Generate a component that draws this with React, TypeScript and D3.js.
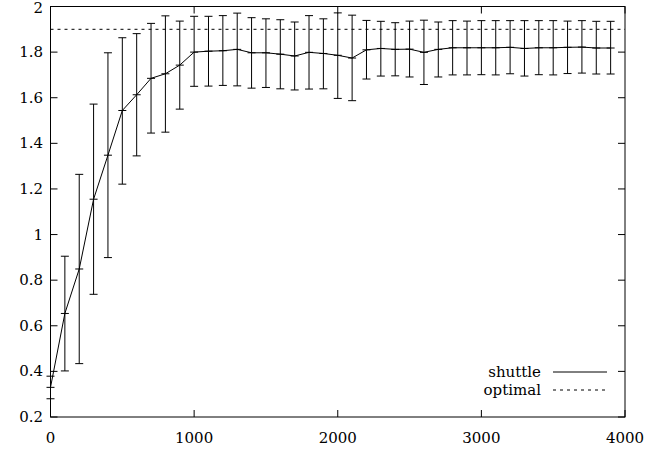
import * as d3 from 'd3';

const xs = [0, 100, 200, 300, 400, 500, 600, 700, 800, 900, 1000, 1100, 1200, 1300, 1400, 1500, 1600, 1700, 1800, 1900,
  2000, 2100, 2200, 2300, 2400, 2500, 2600, 2700, 2800, 2900, 3000, 3100, 3200, 3300, 3400, 3500, 3600, 3700, 3800, 3900];

const means = [0.33, 0.654, 0.849, 1.155, 1.348, 1.544, 1.613, 1.685, 1.705, 1.743, 1.8, 1.804, 1.806, 1.812, 1.797, 1.797, 1.791, 1.783, 1.799, 1.794,
  1.786, 1.774, 1.81, 1.816, 1.812, 1.813, 1.799, 1.812, 1.819, 1.819, 1.819, 1.819, 1.821, 1.816, 1.819, 1.819, 1.821, 1.822, 1.818, 1.818];

const highs = [0.379, 0.905, 1.264, 1.572, 1.797, 1.863, 1.881, 1.926, 1.959, 1.936, 1.957, 1.957, 1.96, 1.971, 1.951, 1.946, 1.942, 1.932, 1.96, 1.946,
  1.972, 1.962, 1.939, 1.935, 1.929, 1.936, 1.94, 1.932, 1.938, 1.936, 1.938, 1.938, 1.938, 1.938, 1.938, 1.938, 1.936, 1.938, 1.935, 1.935];

const lows = [0.28, 0.402, 0.434, 0.738, 0.899, 1.221, 1.345, 1.445, 1.449, 1.55, 1.65, 1.651, 1.654, 1.652, 1.642, 1.645, 1.639, 1.634, 1.638, 1.639,
  1.597, 1.587, 1.682, 1.695, 1.696, 1.691, 1.658, 1.691, 1.7, 1.7, 1.701, 1.7, 1.705, 1.695, 1.701, 1.7, 1.706, 1.708, 1.704, 1.704];

const optimal = 1.9;
const xTicks = [0, 1000, 2000, 3000, 4000];
const yTicks = [0.2, 0.4, 0.6, 0.8, 1, 1.2, 1.4, 1.6, 1.8, 2];
const legend = ['shuttle', 'optimal'];

const W = 670;
const H = 449;
const left = 50.5;
const right = 625;
const top = 6.5;
const bottom = 417;
const font = "'DejaVu Serif', serif";

export default function App() {
  const x = d3.scaleLinear().domain([0, 4000]).range([left, right]);
  const y = d3.scaleLinear().domain([0.2, 2]).range([bottom, top]);
  const pts = xs.map((v, i) => [x(v), y(means[i])] as [number, number]);
  const line = d3.line()(pts) || '';
  const tick = 7;
  const cap = 4;

  return (
    <svg width={W} height={H} style={{ position: 'absolute', left: 0, top: 0 }}>
      <rect width={W} height={H} fill="#fff" />
      <g style={{ fontFamily: font, fontSize: '15px' }} fill="#000">
        {xTicks.map((t) => (
          <text key={'xl' + t} x={x(t)} y={443} textAnchor="middle">{t}</text>
        ))}
        {yTicks.map((t) => (
          <text key={'yl' + t} x={43} y={Math.max(y(t) + 5, 13)} textAnchor="end">{t}</text>
        ))}
        <text x={541} y={377} textAnchor="end">{legend[0]}</text>
        <text x={541} y={395} textAnchor="end">{legend[1]}</text>
      </g>
      {/* frame */}
      <rect x={left} y={top} width={right - left} height={bottom - top} fill="none" stroke="#000" strokeWidth={1} />
      {xTicks.map((t) => (
        <g key={'x' + t} stroke="#000">
          <line x1={x(t)} x2={x(t)} y1={bottom} y2={bottom - tick} />
          <line x1={x(t)} x2={x(t)} y1={top} y2={top + tick} />
        </g>
      ))}
      {yTicks.map((t) => (
        <g key={'y' + t} stroke="#000">
          <line x1={left} x2={left + tick} y1={y(t)} y2={y(t)} />
          <line x1={right} x2={right - tick} y1={y(t)} y2={y(t)} />
        </g>
      ))}
      {/* optimal */}
      <line x1={left} x2={right} y1={y(optimal)} y2={y(optimal)} stroke="#000" strokeDasharray="3,4" />
      {/* error bars */}
      {xs.map((v, i) => {
        const cx = x(v);
        return (
          <g key={'e' + v} stroke="#000" strokeWidth={1}>
            <line x1={cx} x2={cx} y1={y(highs[i])} y2={y(lows[i])} />
            <line x1={cx - cap} x2={cx + cap} y1={y(highs[i])} y2={y(highs[i])} />
            <line x1={cx - cap} x2={cx + cap} y1={y(lows[i])} y2={y(lows[i])} />
            <line x1={cx - cap} x2={cx + cap} y1={y(means[i])} y2={y(means[i])} />
          </g>
        );
      })}
      <path d={line} fill="none" stroke="#000" strokeWidth={1} />
      {/* legend */}
      <line x1={553} x2={607} y1={372} y2={372} stroke="#000" />
      <line x1={553} x2={607} y1={390} y2={390} stroke="#000" strokeDasharray="3,4" />
    </svg>
  );
}
